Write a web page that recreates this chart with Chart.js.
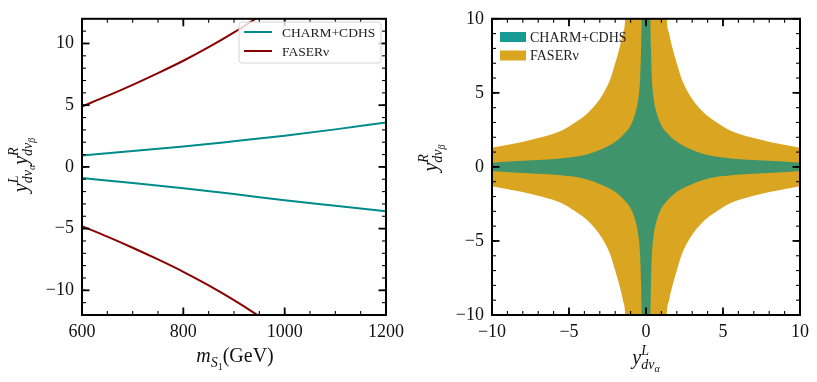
<!DOCTYPE html>
<html>
<head>
<meta charset="utf-8">
<script src="https://cdn.jsdelivr.net/npm/chart.js@4.4.0/dist/chart.umd.min.js"></script>
<style>
  body { margin: 0; background: #fff; }
  #wrap { position: relative; width: 817px; height: 382px; }
  canvas { position: absolute; top: 0; }
</style>
</head>
<body>
<div id="wrap">
  <canvas id="leftChart" width="410" height="382" style="left:0"></canvas>
  <canvas id="rightChart" width="407" height="382" style="left:410px"></canvas>
</div>
<script>
// left panel: coupling product vs leptoquark mass
const massX = [600, 700, 800, 900, 1000, 1100, 1200];
const charmUpper = [0.93, 1.28, 1.65, 2.08, 2.53, 3.04, 3.6];
const charmLower = [-0.9, -1.3, -1.73, -2.2, -2.7, -3.15, -3.6];
const faserMassX = [600, 650, 700, 750, 800, 850, 900, 950];
const faserUpper = [4.9, 5.75, 6.65, 7.6, 8.6, 9.7, 10.9, 12.2];
const faserLower = [-4.8, -5.65, -6.55, -7.5, -8.5, -9.6, -10.8, -12.1];
const leftXTicks = [600, 800, 1000, 1200];
const leftYTicks = [-10, -5, 0, 5, 10];

// right panel: allowed region edges, positive half (|yL| -> |yR|)
const charmEdgeX = [0.2, 0.28, 0.32, 0.38, 0.5, 0.7, 1.0, 1.4, 1.8, 2.3, 2.9, 4.0, 5.7, 8.3, 10];
const charmEdgeY = [13, 10, 8, 6, 4.6, 3.6, 2.8, 2.25, 1.85, 1.5, 1.2, 0.8, 0.55, 0.4, 0.28];
const faserEdgeX = [1.25, 1.35, 1.5, 1.7, 2.0, 2.33, 2.87, 3.74, 4.6, 5.5, 6.8, 8.1, 10];
const faserEdgeY = [13, 10, 9, 8.1, 7, 5.9, 4.78, 3.67, 3.0, 2.44, 2.0, 1.67, 1.3];
const rightTicks = [-10, -5, 0, 5, 10];

const TEAL = "#008b8b";
const DARKRED = "#8b0000";
const GREEN_FILL = "#40946b";
const TEAL_BOX = "#179b94";
const GOLD = "#daa520";
const SERIF = '"Liberation Serif", "DejaVu Serif", serif';

function pairs(xs, ys) {
  return xs.map((x, i) => ({ x: x, y: ys[i] }));
}

function band(xs, ys, sign) {
  let left = xs.map((x, i) => ({ x: -x, y: sign * ys[i] })).reverse();
  let right = xs.map((x, i) => ({ x: x, y: sign * ys[i] }));
  return left.concat(right);
}

function minusSign(v) {
  return String(v).replace("-", "\u2212");
}

function drawMath(ctx, parts, cx, cy, rot) {
  let x = 0, mark = 0, maxX = 0;
  let placed = [];
  for (const p of parts) {
    if (p.back) x = mark;
    if (p.mark) mark = x;
    ctx.font = (p.i ? "italic " : "") + p.s + "px " + SERIF;
    placed.push({ p: p, x: x });
    x += ctx.measureText(p.t).width;
    maxX = Math.max(maxX, x);
  }
  ctx.save();
  ctx.translate(cx, cy);
  ctx.rotate(rot || 0);
  ctx.fillStyle = "#111";
  ctx.textAlign = "left";
  ctx.textBaseline = "alphabetic";
  for (const item of placed) {
    ctx.font = (item.p.i ? "italic " : "") + item.p.s + "px " + SERIF;
    ctx.fillText(item.p.t, item.x - maxX / 2, item.p.dy || 0);
  }
  ctx.restore();
}

function yPart(sup, greek) {
  return [
    { t: "y", s: 20, i: true },
    { t: sup, s: 14, i: true, dy: -9, mark: true },
    { t: "d\u03bd", s: 14, i: true, dy: 5, back: true },
    { t: greek, s: 10, i: true, dy: 8 },
  ];
}

const frameTicks = {
  id: "frameTicks",
  afterDraw(chart, args, opts) {
    const { ctx, chartArea: a } = chart;
    const xs = chart.scales.x, ys = chart.scales.y;
    ctx.save();
    ctx.strokeStyle = "#000";
    function seg(x1, y1, x2, y2) {
      ctx.beginPath();
      ctx.moveTo(x1, y1);
      ctx.lineTo(x2, y2);
      ctx.stroke();
    }
    function xTick(v, len) {
      let p = xs.getPixelForValue(v);
      seg(p, a.bottom, p, a.bottom - len);
      seg(p, a.top, p, a.top + len);
    }
    function yTick(v, len) {
      let p = ys.getPixelForValue(v);
      seg(a.left, p, a.left + len, p);
      seg(a.right, p, a.right - len, p);
    }
    ctx.lineWidth = 1.1;
    for (let v = xs.min; v <= xs.max + 1e-9; v += opts.xMinor) xTick(v, 4);
    for (let v = ys.min; v <= ys.max + 1e-9; v += opts.yMinor) yTick(v, 4);
    ctx.lineWidth = 1.8;
    xs.ticks.forEach((t) => xTick(t.value, 7.5));
    ys.ticks.forEach((t) => yTick(t.value, 7.5));
    ctx.lineWidth = 2;
    ctx.strokeRect(a.left, a.top, a.width, a.height);
    ctx.restore();

    (opts.titles || []).forEach((tt) => drawMath(ctx, tt.parts, tt.x, tt.y, tt.rot));
  },
};

const lineLegend = {
  id: "lineLegend",
  afterDraw(chart, args, opts) {
    if (!opts.box) return;
    const ctx = chart.ctx;
    const b = opts.box;
    ctx.save();
    ctx.fillStyle = "rgba(255,255,255,0.8)";
    ctx.strokeStyle = "#d4d4d4";
    ctx.lineWidth = 1;
    ctx.beginPath();
    ctx.roundRect(b.x, b.y, b.w, b.h, 3);
    ctx.fill();
    ctx.stroke();
    let items = chart.data.datasets.filter((d) => d.legendLabel);
    items.forEach((d, i) => {
      let yy = b.y + 10 + i * 19;
      ctx.strokeStyle = d.borderColor;
      ctx.lineWidth = 2;
      ctx.beginPath();
      ctx.moveTo(b.x + 5, yy);
      ctx.lineTo(b.x + 33, yy);
      ctx.stroke();
      ctx.fillStyle = "#222";
      ctx.font = "13.5px " + SERIF;
      ctx.textBaseline = "middle";
      ctx.fillText(d.legendLabel, b.x + 43, yy + 1);
    });
    ctx.restore();
  },
};

const boxLegend = {
  id: "boxLegend",
  afterDraw(chart, args, opts) {
    if (!opts.x) return;
    const ctx = chart.ctx;
    ctx.save();
    let items = chart.data.datasets.filter((d) => d.legendLabel);
    items.forEach((d, i) => {
      let yy = opts.y + i * 18.5;
      ctx.fillStyle = d.legendColor;
      ctx.fillRect(opts.x, yy, 26, 10);
      ctx.fillStyle = "#222";
      ctx.font = "14px " + SERIF;
      ctx.textBaseline = "middle";
      ctx.fillText(d.legendLabel, opts.x + 30, yy + 6);
    });
    ctx.restore();
  },
};

function axis(min, max, tickValues, isY, width) {
  return {
    type: "linear",
    min: min,
    max: max,
    grid: { display: false, drawTicks: false },
    border: { display: false },
    afterBuildTicks: (scale) => {
      scale.ticks = tickValues.map((v) => ({ value: v }));
    },
    afterFit: (scale) => {
      if (isY) scale.width = width;
      else scale.height = width;
    },
    ticks: {
      padding: isY ? 8 : 6,
      color: "#111",
      font: { family: SERIF, size: 18 },
      callback: (v) => minusSign(v),
    },
  };
}

function lineSet(xs, ys, color, label) {
  return {
    data: pairs(xs, ys),
    borderColor: color,
    borderWidth: 2,
    pointRadius: 0,
    showLine: true,
    cubicInterpolationMode: "monotone",
    fill: false,
    legendLabel: label,
  };
}

let leftChart = new Chart(document.getElementById("leftChart").getContext("2d"), {
  type: "scatter",
  data: {
    datasets: [
      lineSet(massX, charmUpper, TEAL, "CHARM+CDHS"),
      lineSet(massX, charmLower, TEAL, null),
      lineSet(faserMassX, faserUpper, DARKRED, "FASER\u03bd"),
      lineSet(faserMassX, faserLower, DARKRED, null),
    ],
  },
  options: {
    responsive: false,
    animation: false,
    layout: { padding: { top: 15, right: 22, left: 0, bottom: 0 } },
    scales: {
      x: axis(600, 1200, leftXTicks, false, 67),
      y: axis(-12, 12, leftYTicks, true, 82),
    },
    plugins: {
      legend: { display: false },
      tooltip: { enabled: false },
      frameTicks: {
        xMinor: 50,
        yMinor: 1,
        titles: [
          {
            parts: [
              { t: "m", s: 20, i: true },
              { t: "S", s: 14, i: true, dy: 5 },
              { t: "1", s: 10, dy: 8 },
              { t: "(GeV)", s: 20 },
            ],
            x: 235,
            y: 362,
            rot: 0,
          },
          { parts: yPart("L", "\u03b1").concat(yPart("R", "\u03b2")), x: 27, y: 165, rot: -Math.PI / 2 },
        ],
      },
      lineLegend: { box: { x: 239, y: 22, w: 142, h: 41 } },
    },
  },
  plugins: [frameTicks, lineLegend],
});

function fillSet(points, color, target, label, boxColor) {
  return {
    data: points,
    borderWidth: 0,
    borderColor: "transparent",
    backgroundColor: color,
    pointRadius: 0,
    showLine: true,
    cubicInterpolationMode: "monotone",
    fill: target,
    legendLabel: label,
    legendColor: boxColor,
  };
}

let rightChart = new Chart(document.getElementById("rightChart").getContext("2d"), {
  type: "scatter",
  data: {
    datasets: [
      fillSet(band(charmEdgeX, charmEdgeY, 1), GREEN_FILL, "+1", "CHARM+CDHS", TEAL_BOX),
      fillSet(band(charmEdgeX, charmEdgeY, -1), GREEN_FILL, false, null, null),
      fillSet(band(faserEdgeX, faserEdgeY, 1), GOLD, "+1", "FASER\u03bd", GOLD),
      fillSet(band(faserEdgeX, faserEdgeY, -1), GOLD, false, null, null),
    ],
  },
  options: {
    responsive: false,
    animation: false,
    layout: { padding: { top: 15, right: 17, left: 0, bottom: 0 } },
    scales: {
      x: axis(-10, 10, rightTicks, false, 67),
      y: axis(-10, 10, rightTicks, true, 82),
    },
    plugins: {
      legend: { display: false },
      tooltip: { enabled: false },
      frameTicks: {
        xMinor: 1,
        yMinor: 1,
        titles: [
          { parts: yPart("L", "\u03b1"), x: 236, y: 364, rot: 0 },
          { parts: yPart("R", "\u03b2"), x: 27, y: 158, rot: -Math.PI / 2 },
        ],
      },
      boxLegend: { x: 90, y: 32 },
    },
  },
  plugins: [frameTicks, boxLegend],
});
</script>
</body>
</html>
